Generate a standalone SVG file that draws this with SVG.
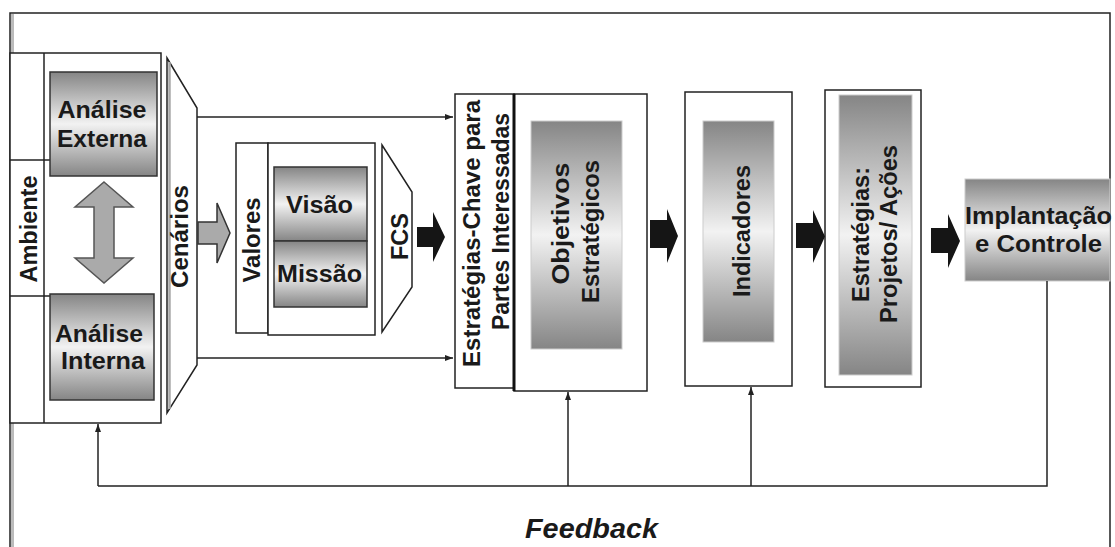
<svg xmlns="http://www.w3.org/2000/svg" width="1115" height="547" viewBox="0 0 1115 547">
<style>
.ln{fill:none;stroke:#222;stroke-width:1.5}
.bx{fill:#fff;stroke:#222;stroke-width:1.5}
.gb{fill:url(#grad);stroke:#333;stroke-width:1.5}
.gs{fill:url(#grad);stroke:#ccc;stroke-width:1}
.t{font-family:"Liberation Sans",Arial,sans-serif;font-weight:bold;font-size:24px;fill:#1a1a1a;text-anchor:middle}
.ba{fill:#151515}
.ga{fill:#aaa;stroke:#333;stroke-width:1.5}
.fb{fill:none;stroke:#222;stroke-width:1.5}
</style>
<defs>
<linearGradient id="grad" x1="0" y1="0" x2="0" y2="1">
<stop offset="0" stop-color="#858585"/>
<stop offset="0.5" stop-color="#f2f2f2"/>
<stop offset="1" stop-color="#858585"/>
</linearGradient>
<marker id="ah" markerWidth="8" markerHeight="6" refX="8" refY="3" orient="auto" markerUnits="userSpaceOnUse">
<path d="M0,0 L8,3 L0,6 Z" fill="#222"/>
</marker>
</defs>
<rect width="1115" height="547" fill="#fff"/>
<g id="frame">
<path d="M10,547 V13 H1110 V547" class="ln"/>
<line x1="12.5" y1="14" x2="12.5" y2="547" stroke="#bbb" stroke-width="3"/>
</g>
<g id="ambiente">
<rect x="10" y="53" width="151" height="370" class="bx"/>
<line x1="44" y1="53" x2="44" y2="423" class="ln"/>
<line x1="10" y1="160" x2="50" y2="160" class="ln"/>
<line x1="10" y1="296" x2="50" y2="296" class="ln"/>
<text class="t" transform="translate(37,229) rotate(-90)" textLength="107" lengthAdjust="spacingAndGlyphs">Ambiente</text>
</g>
<g id="analise-externa">
<rect x="50" y="72" width="107" height="104" class="gb"/>
<text class="t" x="102" y="118" textLength="89" lengthAdjust="spacingAndGlyphs">Análise</text>
<text class="t" x="102" y="147" textLength="90" lengthAdjust="spacingAndGlyphs">Externa</text>
</g>
<g id="seta-dupla">
<path d="M104,182 L133,207 H114 V258 H133 L104,283 L75,258 H94 V207 H75 Z" fill="#aaa" stroke="#555" stroke-width="1.5"/>
</g>
<g id="analise-interna">
<rect x="50" y="294" width="104" height="106" class="gb"/>
<text class="t" x="99" y="342" textLength="88" lengthAdjust="spacingAndGlyphs">Análise</text>
<text class="t" x="103" y="369" textLength="84" lengthAdjust="spacingAndGlyphs">Interna</text>
</g>
<g id="cenarios">
<path d="M167,58 L197,108 V365 L167,413 Z" class="bx"/>
<line x1="169.5" y1="62" x2="169.5" y2="409" stroke="#aaa" stroke-width="2.5"/>
<text class="t" transform="translate(188,236.5) rotate(-90)" textLength="103" lengthAdjust="spacingAndGlyphs">Cenários</text>
</g>
<g id="valores">
<rect x="236" y="143" width="32" height="190" class="bx"/>
<rect x="268" y="143" width="107" height="192" class="bx"/>
<text class="t" transform="translate(260,240) rotate(-90)" textLength="85" lengthAdjust="spacingAndGlyphs">Valores</text>
</g>
<g id="visao">
<rect x="274" y="167" width="93" height="74" class="gb"/>
<text class="t" x="319.5" y="213" textLength="67" lengthAdjust="spacingAndGlyphs">Visão</text>
</g>
<g id="missao">
<rect x="274" y="241" width="93" height="66" class="gb"/>
<text class="t" x="319.5" y="282" textLength="85" lengthAdjust="spacingAndGlyphs">Missão</text>
</g>
<g id="fcs">
<path d="M382,145 L412,192 V287 L382,332 Z" class="bx"/>
<text class="t" transform="translate(408,236.5) rotate(-90)" textLength="47" lengthAdjust="spacingAndGlyphs">FCS</text>
</g>
<g id="estrategias-chave">
<rect x="455" y="94" width="59" height="294" class="bx"/>
<text class="t" transform="translate(480,233.5) rotate(-90)" textLength="267" lengthAdjust="spacingAndGlyphs">Estratégias-Chave para</text>
<text class="t" transform="translate(509,221.5) rotate(-90)" textLength="217" lengthAdjust="spacingAndGlyphs">Partes Interessadas</text>
</g>
<g id="objetivos">
<rect x="514" y="94" width="133" height="297" class="bx"/>
<line x1="514" y1="94" x2="514" y2="391" stroke="#111" stroke-width="3"/>
<rect x="531" y="121" width="91" height="228" class="gs"/>
<text class="t" transform="translate(569,223.5) rotate(-90)" textLength="122" lengthAdjust="spacingAndGlyphs">Objetivos</text>
<text class="t" transform="translate(599,231.5) rotate(-90)" textLength="143" lengthAdjust="spacingAndGlyphs">Estratégicos</text>
</g>
<g id="indicadores">
<rect x="685" y="92" width="107" height="294" class="bx"/>
<rect x="703" y="121" width="71" height="221" class="gs"/>
<text class="t" transform="translate(750,231) rotate(-90)" textLength="132" lengthAdjust="spacingAndGlyphs">Indicadores</text>
</g>
<g id="estrategias-projetos">
<rect x="825" y="90" width="96" height="297" class="bx"/>
<rect x="839" y="95" width="73" height="280" class="gs"/>
<text class="t" transform="translate(869,234.5) rotate(-90)" textLength="135" lengthAdjust="spacingAndGlyphs">Estratégias:</text>
<text class="t" transform="translate(897,234) rotate(-90)" textLength="178" lengthAdjust="spacingAndGlyphs">Projetos/ Ações</text>
</g>
<g id="implantacao">
<rect x="965" y="179" width="145" height="102" class="gs"/>
<text class="t" x="1038.5" y="224" textLength="147" lengthAdjust="spacingAndGlyphs">Implantação</text>
<text class="t" x="1038.5" y="252" textLength="127" lengthAdjust="spacingAndGlyphs">e Controle</text>
</g>
<g id="connectors">
<path d="M198,222 H217 V203 L230,233 L217,263 V244 H198 Z" class="ga"/>
<path d="M417,227 H433 V212 L445,237 L433,262 V247 H417 Z" class="ba"/>
<path d="M650,220 H667 V209 L678,236 L667,263 V248 H650 Z" class="ba"/>
<path d="M796,223 H813 V210 L825,236.5 L813,263 V248 H796 Z" class="ba"/>
<path d="M931,228 H948 V214 L960,241 L948,268 V253 H931 Z" class="ba"/>
<line x1="197" y1="117" x2="453" y2="117" class="fb" marker-end="url(#ah)"/>
<line x1="197" y1="358" x2="453" y2="358" class="fb" marker-end="url(#ah)"/>
<path d="M1047,281 V486 H98" class="fb"/>
<line x1="98" y1="486" x2="98" y2="424" class="fb" marker-end="url(#ah)"/>
<line x1="568" y1="486" x2="568" y2="392" class="fb" marker-end="url(#ah)"/>
<line x1="751" y1="486" x2="751" y2="387" class="fb" marker-end="url(#ah)"/>
</g>
<g id="feedback">
<text x="591.5" y="538" font-family="Liberation Sans, Arial, sans-serif" font-style="italic" font-weight="bold" font-size="27" fill="#1a1a1a" text-anchor="middle" textLength="133" lengthAdjust="spacingAndGlyphs">Feedback</text>
</g>
</svg>
